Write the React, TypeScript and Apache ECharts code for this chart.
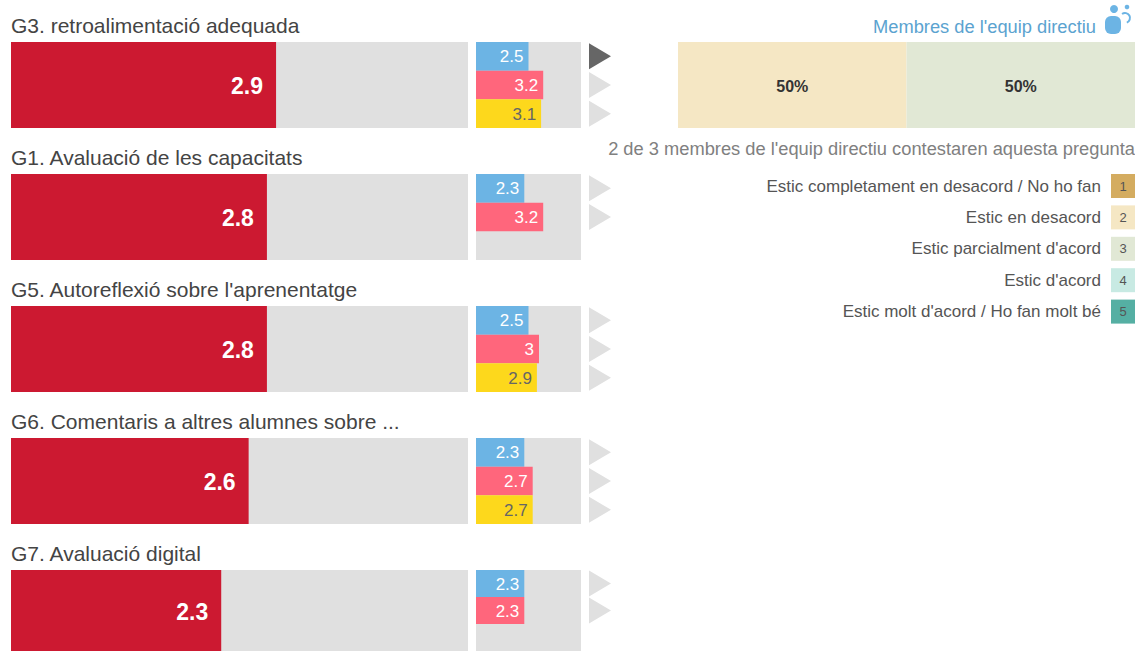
import React, { useEffect, useRef } from "react";
import * as echarts from "echarts";

const titles = [
  "G3. retroalimentació adequada",
  "G1. Avaluació de les capacitats",
  "G5. Autoreflexió sobre l'aprenentatge",
  "G6. Comentaris a altres alumnes sobre ...",
  "G7. Avaluació digital",
];
const mainValues = [2.9, 2.8, 2.8, 2.6, 2.3];
const blueValues = [2.5, 2.3, 2.5, 2.3, 2.3];
const pinkValues = [3.2, 3.2, 3, 2.7, 2.3];
const yellowValues: (number | null)[] = [3.1, null, 2.9, 2.7, null];
const selectedRow = 0;
const selectedSlot = 0;
const shareLabels = ["2", "3"];
const shareValues = [50, 50];
const shareColors = ["#F5E7C4", "#E1E8D5"];
const legendLabels = [
  "Estic completament en desacord / No ho fan",
  "Estic en desacord",
  "Estic parcialment d'acord",
  "Estic d'acord",
  "Estic molt d'acord / Ho fan molt bé",
];
const legendColors = ["#D4AC60", "#F5E7C4", "#E1E8D5", "#C8EAE3", "#55AFA3"];
const teamTitle = "Membres de l'equip directiu";
const answered = "2 de 3 membres de l'equip directiu contestaren aquesta pregunta";

const FONT = "'Liberation Sans', Arial, sans-serif";
const GREY = "#E0E0E0";
const rowTop = (i: number) => 42 + i * 132;
const ROW_H = 86;

function buildOption() {
  const grid: any[] = [];
  const xAxis: any[] = [];
  const yAxis: any[] = [];
  const series: any[] = [];
  const addGrid = (left: number, top: number, width: number, height: number, max: number, cats: string[], bg: boolean) => {
    grid.push({ left, top, width, height, show: bg, backgroundColor: GREY, borderWidth: 0, containLabel: false });
    const idx = grid.length - 1;
    xAxis.push({ type: "value", gridIndex: idx, min: 0, max, show: false });
    yAxis.push({ type: "category", gridIndex: idx, data: cats, inverse: true, show: false });
    return idx;
  };
  const slots = ["centre", "comparat", "referència"];
  titles.forEach((_, i) => {
    const top = rowTop(i);
    const g1 = addGrid(11, top, 457, ROW_H, 5, [titles[i]], true);
    series.push({
      type: "bar", xAxisIndex: g1, yAxisIndex: g1, barWidth: "100%", silent: true,
      data: [mainValues[i]], itemStyle: { color: "#CC1931" },
      label: { show: true, position: "insideRight", distance: 13, offset: [0, 1], color: "#fff", fontFamily: FONT, fontWeight: "bold", fontSize: 23 },
    });
    const g2 = addGrid(476, top, 105, ROW_H, 5, slots, true);
    const small = [
      { v: blueValues[i], c: "#6CB4E4", t: "#fff" },
      { v: pinkValues[i], c: "#FF667C", t: "#fff" },
      { v: yellowValues[i], c: "#FDD81C", t: "#666" },
    ];
    series.push({
      type: "bar", xAxisIndex: g2, yAxisIndex: g2, barWidth: "100%", silent: true,
      data: small.map((s) => (s.v == null ? null : {
        value: s.v, itemStyle: { color: s.c },
        label: { color: s.t },
      })),
      label: { show: true, position: "insideRight", distance: 5, offset: [0, 0.5], fontFamily: FONT, fontSize: 17 },
    });
    const g3 = addGrid(589, top, 22, ROW_H, 1, slots, false);
    series.push({
      type: "scatter", xAxisIndex: g3, yAxisIndex: g3, silent: true, clip: false,
      symbol: "triangle", symbolRotate: -90, symbolSize: [26, 22],
      data: small.map((s, k) => (s.v == null ? null : {
        value: [0.5, k],
        itemStyle: { opacity: 1, color: i === selectedRow && k === selectedSlot ? "#666666" : GREY },
      })).filter(Boolean),
    });
  });
  const g4 = addGrid(678, 42, 457, ROW_H, 100, ["equip"], false);
  shareValues.forEach((v, k) => {
    series.push({
      type: "bar", name: shareLabels[k], stack: "share", xAxisIndex: g4, yAxisIndex: g4, barWidth: "100%", silent: true,
      data: [v], itemStyle: { color: shareColors[k] },
      label: { show: true, position: "inside", offset: [0, 1], formatter: "{c}%", color: "#333", fontFamily: FONT, fontWeight: "bold", fontSize: 16 },
    });
  });

  const graphic: any[] = [];
  const text = (x: number, y: number, t: string, fontSize: number, fill: string, align = "left") =>
    graphic.push({ type: "text", x, y, silent: true, style: { text: t, font: `${fontSize}px ${FONT}`, fill, align, verticalAlign: "middle" } });
  titles.forEach((t, i) => text(11, rowTop(i) - 16.5, t, 21, "#444444"));
  text(1096, 26, teamTitle, 18.3, "#5BA3D0", "right");
  text(1135, 148, answered, 18.3, "#808080", "right");
  legendLabels.forEach((t, i) => {
    const y = 186 + i * 31.4;
    text(1101, y, t, 17, "#555555", "right");
    graphic.push({ type: "rect", x: 1111, y: y - 12, silent: true, shape: { width: 24, height: 24 }, style: { fill: legendColors[i] } });
    text(1123, y, String(i + 1), 13, "#555555", "center");
  });
  const blue = "#6CB4E4";
  graphic.push({ type: "rect", x: 1105, y: 16, silent: true, shape: { width: 16, height: 18, r: 6 }, style: { fill: blue } });
  graphic.push({ type: "circle", x: 1114, y: 9, silent: true, shape: { r: 4 }, style: { fill: blue } });
  graphic.push({ type: "circle", x: 1127, y: 7, silent: true, shape: { r: 2.3 }, style: { fill: blue } });
  graphic.push({ type: "arc", x: 1125, y: 18, silent: true, shape: { r: 5, startAngle: -2.2, endAngle: 1.2 }, style: { stroke: blue, lineWidth: 2, fill: "none" } });

  return { animation: false, backgroundColor: "#fff", grid, xAxis, yAxis, series, graphic, tooltip: { show: false } };
}

export default function App() {
  const ref = useRef<HTMLDivElement>(null);
  useEffect(() => {
    const chart = echarts.init(ref.current!, undefined, { renderer: "svg" });
    chart.setOption(buildOption());
    return () => chart.dispose();
  }, []);
  return <div ref={ref} style={{ position: "absolute", left: 0, top: 0, width: 1135, height: 651 }} />;
}
